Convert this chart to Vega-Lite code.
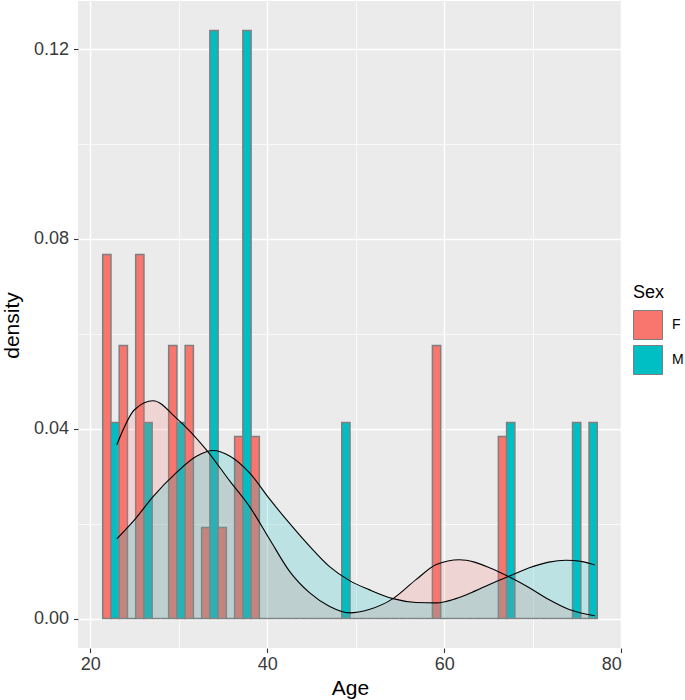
{
  "$schema": "https://vega.github.io/schema/vega-lite/v6.json",
  "width": 544,
  "height": 647,
  "autosize": {"type": "none"},
  "padding": {"left": 78, "top": 1, "right": 63, "bottom": 52},
  "background": "white",
  "config": {
    "view": {"fill": "#EBEBEB", "stroke": null},
    "font": "Liberation Sans",
    "axis": {
      "domain": false,
      "gridColor": "white",
      "tickColor": "#333333",
      "tickSize": 4.5,
      "tickWidth": 1.1,
      "labelColor": "#3A3A3A",
      "labelFont": "Liberation Sans",
      "labelFontSize": 18,
      "titleFont": "Liberation Sans",
      "titleFontSize": 21,
      "titleFontWeight": "normal",
      "titleColor": "black"
    },
    "legend": {
      "titleFont": "Liberation Sans",
      "titleFontSize": 18,
      "titleFontWeight": "normal",
      "labelFont": "Liberation Sans",
      "labelFontSize": 14,
      "labelColor": "black"
    }
  },
  "datasets": {
    "bars": [
      {"sex": "F", "x0": 21.4138, "x1": 22.3448, "density": 0.07672},
      {"sex": "M", "x0": 22.3448, "x1": 23.2759, "density": 0.04131},
      {"sex": "F", "x0": 23.2759, "x1": 24.2069, "density": 0.05754},
      {"sex": "M", "x0": 24.2069, "x1": 25.1379, "density": 0},
      {"sex": "F", "x0": 25.1379, "x1": 26.0690, "density": 0.07672},
      {"sex": "M", "x0": 26.0690, "x1": 27.0000, "density": 0.04131},
      {"sex": "F", "x0": 27.0000, "x1": 27.9310, "density": 0},
      {"sex": "M", "x0": 27.9310, "x1": 28.8621, "density": 0},
      {"sex": "F", "x0": 28.8621, "x1": 29.7931, "density": 0.05754},
      {"sex": "M", "x0": 29.7931, "x1": 30.7241, "density": 0.04131},
      {"sex": "F", "x0": 30.7241, "x1": 31.6552, "density": 0.05754},
      {"sex": "M", "x0": 31.6552, "x1": 32.5862, "density": 0},
      {"sex": "F", "x0": 32.5862, "x1": 33.5172, "density": 0.01918},
      {"sex": "M", "x0": 33.5172, "x1": 34.4483, "density": 0.12393},
      {"sex": "F", "x0": 34.4483, "x1": 35.3793, "density": 0.01918},
      {"sex": "M", "x0": 35.3793, "x1": 36.3103, "density": 0},
      {"sex": "F", "x0": 36.3103, "x1": 37.2414, "density": 0.03836},
      {"sex": "M", "x0": 37.2414, "x1": 38.1724, "density": 0.12393},
      {"sex": "F", "x0": 38.1724, "x1": 39.1034, "density": 0.03836},
      {"sex": "M", "x0": 39.1034, "x1": 40.0345, "density": 0},
      {"sex": "F", "x0": 40.0345, "x1": 40.9655, "density": 0},
      {"sex": "M", "x0": 40.9655, "x1": 41.8966, "density": 0},
      {"sex": "F", "x0": 41.8966, "x1": 42.8276, "density": 0},
      {"sex": "M", "x0": 42.8276, "x1": 43.7586, "density": 0},
      {"sex": "F", "x0": 43.7586, "x1": 44.6897, "density": 0},
      {"sex": "M", "x0": 44.6897, "x1": 45.6207, "density": 0},
      {"sex": "F", "x0": 45.6207, "x1": 46.5517, "density": 0},
      {"sex": "M", "x0": 46.5517, "x1": 47.4828, "density": 0},
      {"sex": "F", "x0": 47.4828, "x1": 48.4138, "density": 0},
      {"sex": "M", "x0": 48.4138, "x1": 49.3448, "density": 0.04131},
      {"sex": "F", "x0": 49.3448, "x1": 50.2759, "density": 0},
      {"sex": "M", "x0": 50.2759, "x1": 51.2069, "density": 0},
      {"sex": "F", "x0": 51.2069, "x1": 52.1379, "density": 0},
      {"sex": "M", "x0": 52.1379, "x1": 53.0690, "density": 0},
      {"sex": "F", "x0": 53.0690, "x1": 54.0000, "density": 0},
      {"sex": "M", "x0": 54.0000, "x1": 54.9310, "density": 0},
      {"sex": "F", "x0": 54.9310, "x1": 55.8621, "density": 0},
      {"sex": "M", "x0": 55.8621, "x1": 56.7931, "density": 0},
      {"sex": "F", "x0": 56.7931, "x1": 57.7241, "density": 0},
      {"sex": "M", "x0": 57.7241, "x1": 58.6552, "density": 0},
      {"sex": "F", "x0": 58.6552, "x1": 59.5862, "density": 0.05754},
      {"sex": "M", "x0": 59.5862, "x1": 60.5172, "density": 0},
      {"sex": "F", "x0": 60.5172, "x1": 61.4483, "density": 0},
      {"sex": "M", "x0": 61.4483, "x1": 62.3793, "density": 0},
      {"sex": "F", "x0": 62.3793, "x1": 63.3103, "density": 0},
      {"sex": "M", "x0": 63.3103, "x1": 64.2414, "density": 0},
      {"sex": "F", "x0": 64.2414, "x1": 65.1724, "density": 0},
      {"sex": "M", "x0": 65.1724, "x1": 66.1034, "density": 0},
      {"sex": "F", "x0": 66.1034, "x1": 67.0345, "density": 0.03836},
      {"sex": "M", "x0": 67.0345, "x1": 67.9655, "density": 0.04131},
      {"sex": "F", "x0": 67.9655, "x1": 68.8966, "density": 0},
      {"sex": "M", "x0": 68.8966, "x1": 69.8276, "density": 0},
      {"sex": "F", "x0": 69.8276, "x1": 70.7586, "density": 0},
      {"sex": "M", "x0": 70.7586, "x1": 71.6897, "density": 0},
      {"sex": "F", "x0": 71.6897, "x1": 72.6207, "density": 0},
      {"sex": "M", "x0": 72.6207, "x1": 73.5517, "density": 0},
      {"sex": "F", "x0": 73.5517, "x1": 74.4828, "density": 0},
      {"sex": "M", "x0": 74.4828, "x1": 75.4138, "density": 0.04131},
      {"sex": "F", "x0": 75.4138, "x1": 76.3448, "density": 0},
      {"sex": "M", "x0": 76.3448, "x1": 77.2759, "density": 0.04131}
    ],
    "dens": [
      {"sex": "F", "age": 23, "dens": 0.0366},
      {"sex": "F", "age": 25, "dens": 0.0440},
      {"sex": "F", "age": 27.1, "dens": 0.0459},
      {"sex": "F", "age": 29.7, "dens": 0.0423},
      {"sex": "F", "age": 33.1, "dens": 0.0356},
      {"sex": "F", "age": 35.8, "dens": 0.0289},
      {"sex": "F", "age": 38, "dens": 0.0236},
      {"sex": "F", "age": 40.3, "dens": 0.0166},
      {"sex": "F", "age": 42.5, "dens": 0.0100},
      {"sex": "F", "age": 44.8, "dens": 0.0054},
      {"sex": "F", "age": 47, "dens": 0.0026},
      {"sex": "F", "age": 49.3, "dens": 0.0012},
      {"sex": "F", "age": 51.5, "dens": 0.0019},
      {"sex": "F", "age": 54.2, "dens": 0.0042},
      {"sex": "F", "age": 56.8, "dens": 0.0082},
      {"sex": "F", "age": 59.1, "dens": 0.0114},
      {"sex": "F", "age": 61.7, "dens": 0.0124},
      {"sex": "F", "age": 63.4, "dens": 0.0119},
      {"sex": "F", "age": 65.1, "dens": 0.0107},
      {"sex": "F", "age": 67.3, "dens": 0.0088},
      {"sex": "F", "age": 69.6, "dens": 0.0065},
      {"sex": "F", "age": 71.8, "dens": 0.0040},
      {"sex": "F", "age": 74.1, "dens": 0.0019},
      {"sex": "F", "age": 77, "dens": 0.0006},
      {"sex": "M", "age": 23, "dens": 0.0168},
      {"sex": "M", "age": 25, "dens": 0.0208},
      {"sex": "M", "age": 27.1, "dens": 0.0257},
      {"sex": "M", "age": 29.7, "dens": 0.0307},
      {"sex": "M", "age": 32, "dens": 0.0342},
      {"sex": "M", "age": 33.9, "dens": 0.0354},
      {"sex": "M", "age": 35.8, "dens": 0.0342},
      {"sex": "M", "age": 38, "dens": 0.0307},
      {"sex": "M", "age": 40.3, "dens": 0.0251},
      {"sex": "M", "age": 42.5, "dens": 0.0201},
      {"sex": "M", "age": 44.8, "dens": 0.0152},
      {"sex": "M", "age": 47, "dens": 0.0110},
      {"sex": "M", "age": 49.3, "dens": 0.0080},
      {"sex": "M", "age": 51.5, "dens": 0.0061},
      {"sex": "M", "age": 54.2, "dens": 0.0042},
      {"sex": "M", "age": 56.8, "dens": 0.0034},
      {"sex": "M", "age": 59.1, "dens": 0.0033},
      {"sex": "M", "age": 61.3, "dens": 0.0042},
      {"sex": "M", "age": 63.1, "dens": 0.0055},
      {"sex": "M", "age": 65.1, "dens": 0.0072},
      {"sex": "M", "age": 67.3, "dens": 0.0089},
      {"sex": "M", "age": 69.6, "dens": 0.0107},
      {"sex": "M", "age": 71.8, "dens": 0.0119},
      {"sex": "M", "age": 73.7, "dens": 0.0123},
      {"sex": "M", "age": 75.6, "dens": 0.0120},
      {"sex": "M", "age": 77, "dens": 0.0113}
    ]
  },
  "layer": [
    {
      "data": {"name": "bars"},
      "mark": {"type": "rect", "stroke": "#7F7F7F", "strokeWidth": 1.5},
      "encoding": {
        "x": {
          "field": "x0", "type": "quantitative",
          "scale": {"domain": [18.621, 80.069], "nice": false, "zero": false},
          "axis": {
            "title": "Age",
            "values": [20, 30, 40, 50, 60, 70, 80],
            "labelExpr": "datum.value % 20 === 0 ? datum.label : ''",
            "gridWidth": {"condition": {"test": "datum.value % 20 === 0", "value": 1.4}, "value": 0.7},
            "tickOpacity": {"condition": {"test": "datum.value % 20 === 0", "value": 1}, "value": 0},
            "labelPadding": 3,
            "titleY": 40,
            "titleBaseline": "middle"
          }
        },
        "x2": {"field": "x1"},
        "y": {
          "field": "density", "type": "quantitative",
          "scale": {"domain": [-0.0062, 0.13013], "nice": false, "zero": false},
          "axis": {
            "title": "density",
            "values": [0, 0.02, 0.04, 0.06, 0.08, 0.1, 0.12],
            "format": ".2f",
            "labelExpr": "round(datum.value * 100) % 4 === 0 ? datum.label : ''",
            "gridWidth": {"condition": {"test": "round(datum.value * 100) % 4 === 0", "value": 1.4}, "value": 0.7},
            "tickOpacity": {"condition": {"test": "round(datum.value * 100) % 4 === 0", "value": 1}, "value": 0},
            "labelPadding": 5,
            "titleX": -66,
            "titleY": 324,
            "titleAngle": -90,
            "titleAlign": "center",
            "titleBaseline": "middle"
          }
        },
        "y2": {"datum": 0},
        "fill": {
          "field": "sex", "type": "nominal",
          "scale": {"domain": ["F", "M"], "range": ["#F8766D", "#00BFC4"]},
          "legend": {
            "title": "Sex",
            "orient": "none",
            "legendX": 555,
            "legendY": 283,
            "symbolType": "square",
            "symbolSize": 841,
            "symbolStrokeColor": "#7F7F7F",
            "symbolStrokeWidth": 1,
            "symbolOpacity": 1,
            "labelOffset": 9,
            "rowPadding": 1,
            "titlePadding": 8
          }
        }
      }
    },
    {
      "data": {"name": "dens"},
      "mark": {"type": "area", "fillOpacity": 0.2, "interpolate": "monotone"},
      "encoding": {
        "x": {"field": "age", "type": "quantitative"},
        "y": {"field": "dens", "type": "quantitative"},
        "y2": {"datum": 0},
        "fill": {"field": "sex", "type": "nominal"}
      }
    },
    {
      "data": {"name": "dens"},
      "mark": {"type": "line", "color": "black", "strokeWidth": 1.1, "interpolate": "monotone"},
      "encoding": {
        "x": {"field": "age", "type": "quantitative"},
        "y": {"field": "dens", "type": "quantitative"},
        "detail": {"field": "sex", "type": "nominal"}
      }
    }
  ]
}
